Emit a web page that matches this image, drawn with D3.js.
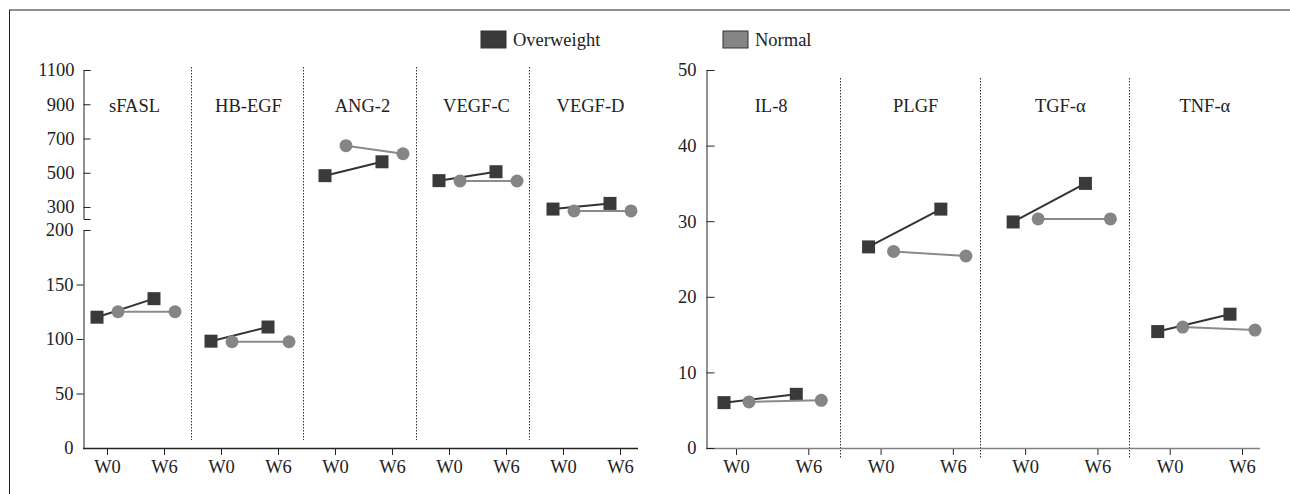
<!DOCTYPE html>
<html lang="en">
<head>
<meta charset="UTF-8">
<title>Overweight vs Normal</title>
<script src="https://cdn.jsdelivr.net/npm/d3@7"></script>
<style>
    body { margin: 0; background: #fff; }
    svg { display: block; }
    text { font-family: "Liberation Serif", "DejaVu Serif", serif; fill: #222; }
    .axis line, .axis path { stroke: #222; }
</style>
</head>
<body>
<script>

// DATA - left panel (broken y axis)
const leftMarkers = ["sFASL", "HB-EGF", "ANG-2", "VEGF-C", "VEGF-D"]
const leftOverW0 = [120, 98, 483, 454, 288]
const leftOverW6 = [137, 111, 564, 506, 321]
const leftNormW0 = [125, 97.5, 658, 452, 277]
const leftNormW6 = [125, 97.5, 611, 452, 277]
const leftUpperTicks = [300, 500, 700, 900, 1100]
const leftLowerTicks = [0, 50, 100, 150, 200]

// DATA - right panel
const rightMarkers = ["IL-8", "PLGF", "TGF-\u03b1", "TNF-\u03b1"]
const rightOverW0 = [6.0, 26.6, 29.9, 15.4]
const rightOverW6 = [7.1, 31.6, 35.0, 17.7]
const rightNormW0 = [6.1, 26.0, 30.3, 16.0]
const rightNormW6 = [6.3, 25.4, 30.3, 15.6]
const rightTicks = [0, 10, 20, 30, 40, 50]

const weeks = ["W0", "W6"]
const groups = ["Overweight", "Normal"]
const groupFill = {Overweight: "#3a3a3a", Normal: "#858585"}
const groupLine = {Overweight: "#333333", Normal: "#8a8a8a"}
const FONT = "18.5px"

const svg = d3.select("body").append("svg").attr("width", 1290).attr("height", 494)

// frame
svg.append("line").attr("x1", 9).attr("x2", 1290).attr("y1", 10).attr("y2", 10)
    .style("stroke", "#909090").style("stroke-width", 2)
svg.append("line").attr("x1", 9.5).attr("x2", 9.5).attr("y1", 10).attr("y2", 494)
    .style("stroke", "#222").style("stroke-width", 1)

// LEGEND
const legend = svg.append("g")
const legendX = d3.scalePoint().domain(groups).range([481, 723])
groups.forEach(g => {
    legend.append("rect").attr("x", legendX(g)).attr("y", 31).attr("width", 25).attr("height", 17)
        .style("fill", groupFill[g]).style("stroke", "#333").style("stroke-width", 1)
    legend.append("text").attr("x", legendX(g) + 32).attr("y", 46)
        .text(g).style("font-size", FONT)
})

function buildRows(markers, ow0, ow6, nw0, nw6) {
    return markers.map((m, i) => ({
        marker: m,
        Overweight: [ow0[i], ow6[i]],
        Normal: [nw0[i], nw6[i]]
    }))
}

function styleAxis(sel) {
    sel.attr("font-family", null).attr("font-size", null)
    sel.selectAll("text").style("font-size", FONT)
}

function drawChart(opt) {
    const rows = buildRows(opt.markers, opt.ow0, opt.ow6, opt.nw0, opt.nw6)
    const keys = []
    opt.markers.forEach(m => weeks.forEach(w => keys.push(m + "|" + w)))
    const x = d3.scalePoint().domain(keys).range(opt.xRange)
    const step = x.step()
    const g = svg.append("g")

    // separators
    opt.markers.slice(0, -1).forEach((m, i) => {
        const sx = Math.round(x(m + "|W6") + step * opt.sepFrac[i]) + 0.5
        g.append("line").attr("x1", sx).attr("x2", sx)
            .attr("y1", opt.sepY[0]).attr("y2", opt.sepY[1])
            .style("stroke", "#333").style("stroke-width", 1).style("stroke-dasharray", "1.5,1.5")
    })

    // panel labels
    opt.markers.forEach(m => {
        g.append("text").attr("x", (x(m + "|W0") + x(m + "|W6")) / 2 - 1).attr("y", 112)
            .attr("text-anchor", "middle").text(m).style("font-size", FONT)
    })

    // x axis
    const xAxis = d3.axisBottom(x).tickSize(7).tickPadding(5).tickFormat(d => d.split("|")[1])
    const xg = g.append("g").attr("class", "axis").attr("transform", "translate(0,448)").call(xAxis)
    xg.select(".domain").remove()
    styleAxis(xg)
    g.append("line").attr("x1", opt.axisX).attr("x2", opt.xEnd).attr("y1", 448.5).attr("y2", 448.5)
        .style("stroke", opt.xAxisColor).style("stroke-width", 1.6)

    // y axes
    opt.drawY(g)

    // lines + markers
    groups.forEach(grp => {
        const dx = opt.dodge[grp]
        const line = d3.line()
            .x(d => x(d.key) + dx)
            .y(d => opt.y(d.v))
        rows.forEach(r => {
            const pts = weeks.map((w, i) => ({key: r.marker + "|" + w, v: r[grp][i]}))
            g.append("path").datum(pts).attr("d", line)
                .style("fill", "none").style("stroke", groupLine[grp]).style("stroke-width", 2)
            pts.forEach(p => {
                if (grp === "Overweight") {
                    g.append("rect").attr("x", x(p.key) + dx - 6.5).attr("y", opt.y(p.v) - 6.5)
                        .attr("width", 13).attr("height", 13).style("fill", groupFill[grp])
                } else {
                    g.append("circle").attr("cx", x(p.key) + dx).attr("cy", opt.y(p.v))
                        .attr("r", 6.5).style("fill", groupFill[grp])
                }
            })
        })
    })
}

// LEFT CHART with broken y axis
const yUp = d3.scaleLinear().domain([230, 1100]).range([219, 70])
const yLow = d3.scaleLinear().domain([0, 200]).range([448, 230])
const yLeft = v => v > 200 ? yUp(v) : yLow(v)

drawChart({
    markers: leftMarkers, ow0: leftOverW0, ow6: leftOverW6, nw0: leftNormW0, nw6: leftNormW6,
    xRange: [107, 620], axisX: 83, xEnd: 638, xAxisColor: "#222",
    sepFrac: [0.47, 0.44, 0.42, 0.4], sepY: [67, 440],
    dodge: {Overweight: -10, Normal: 11},
    y: yLeft,
    drawY: g => {
        const up = g.append("g").attr("class", "axis").attr("transform", "translate(83.5,0)")
            .call(d3.axisLeft(yUp).tickValues(leftUpperTicks).tickFormat(d3.format("d"))
                .tickSizeInner(-7).tickSizeOuter(-7).tickPadding(9))
        styleAxis(up)
        const low = g.append("g").attr("class", "axis").attr("transform", "translate(83.5,0)")
            .call(d3.axisLeft(yLow).tickValues(leftLowerTicks).tickFormat(d3.format("d"))
                .tickSizeInner(7).tickSizeOuter(0).tickPadding(3))
        styleAxis(low)
        low.selectAll(".tick").filter(d => d === 0).select("line").remove()
        low.selectAll(".tick").filter(d => d === 200).select("line").attr("x2", 7)
        low.selectAll(".tick").filter(d => d === 200).select("text").attr("x", -10)
    }
})

// RIGHT CHART
const yRight = d3.scaleLinear().domain([0, 50]).range([448, 70])

drawChart({
    markers: rightMarkers, ow0: rightOverW0, ow6: rightOverW6, nw0: rightNormW0, nw6: rightNormW6,
    xRange: [736, 1242], axisX: 706, xEnd: 1260, xAxisColor: "#808080",
    sepFrac: [0.44, 0.38, 0.44], sepY: [78, 458],
    dodge: {Overweight: -12, Normal: 13},
    y: yRight,
    drawY: g => {
        const ax = g.append("g").attr("class", "axis").attr("transform", "translate(706.5,0)")
            .call(d3.axisLeft(yRight).tickValues(rightTicks).tickSizeInner(-8).tickSizeOuter(0).tickPadding(10))
        styleAxis(ax)
    }
})

</script>
</body>
</html>
